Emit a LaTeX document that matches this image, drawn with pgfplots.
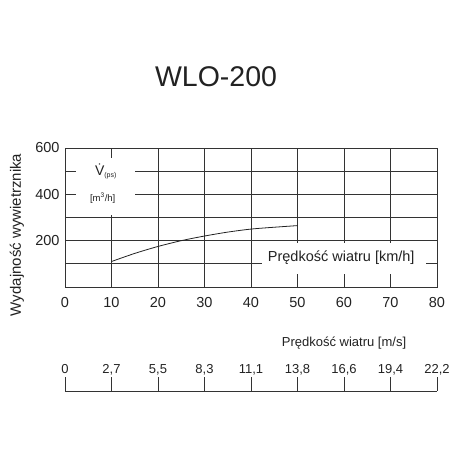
\documentclass[border=0pt]{standalone}
\usepackage{fontspec}
\setmainfont{Liberation Sans}
\usepackage{pgfplots}
\pgfplotsset{compat=1.18}

\definecolor{ink}{HTML}{222222}
\definecolor{gridc}{HTML}{333333}

\begin{document}
\begin{tikzpicture}
\useasboundingbox (0,0) rectangle (458pt,458pt);

% title and y label
\node[text=ink, font=\fontsize{28.5}{30}\selectfont] at (216pt,381pt) {WLO-200};
\node[text=ink, rotate=90, font=\fontsize{15}{17}\selectfont] at (17pt,223pt) {Wydajność wywietrznika};

% main chart (km/h)
\begin{axis}[
    at={(65pt,171pt)}, anchor=south west,
    scale only axis, width=372pt, height=139pt,
    xmin=0, xmax=80, ymin=0, ymax=600,
    xtick={0,10,...,80},
    ytick={200,400,600},
    minor ytick={100,300,500},
    grid=both,
    major grid style={draw=gridc, line width=0.8pt},
    minor grid style={draw=gridc, line width=0.8pt},
    axis line style={draw=gridc, line width=0.8pt},
    major tick length=0pt, minor tick length=0pt,
    /pgf/number format/assume math mode=true,
    tick label style={text=ink, font=\fontsize{14.5}{16}\selectfont},
    xticklabel style={anchor=center, yshift=-15.7pt},
    yticklabel style={anchor=east, xshift=-2pt},
    clip=false,
  ]
  % gaps in the grid behind the labels
  \fill[white] (axis cs:2.4,311) rectangle (axis cs:15,555);
  \fill[white] (axis cs:42.3,56) rectangle (axis cs:77.6,190);

  \addplot[ink, line width=0.8pt, smooth] coordinates {
    (10,110) (15,145) (20,175) (25,200) (30,220) (35,237) (40,250) (45,258) (50,265)
  };

  \node[text=ink, font=\fontsize{14}{15}\selectfont, anchor=base west]
    at (axis cs:5.7,480) {\.{V}\raisebox{-2pt}{\fontsize{7}{8}\selectfont(ps)}};
  \node[text=ink, font=\fontsize{9.5}{10}\selectfont]
    at (axis cs:8.1,385) {[m\textsuperscript{3}/h]};
  \node[text=ink, font=\fontsize{14.5}{16}\selectfont]
    at (axis cs:59.4,127) {Prędkość wiatru [km/h]};
\end{axis}

% second scale (m/s): ticks drawn as grid lines of a flat axis
\begin{axis}[
    at={(65pt,67pt)}, anchor=south west,
    scale only axis, width=372pt, height=14pt,
    xmin=0, xmax=80, ymin=0, ymax=1,
    axis x line*=bottom,
    hide y axis,
    x axis line style={-, draw=gridc, line width=0.8pt},
    xtick={0,10,...,80},
    xticklabels={0,{2,7},{5,5},{8,3},{11,1},{13,8},{16,6},{19,4},{22,2}},
    xmajorgrids,
    major grid style={draw=gridc, line width=0.8pt},
    major tick length=0pt,
    tick label style={text=ink, font=\fontsize{13}{14}\selectfont},
    xticklabel style={anchor=base, yshift=17.3pt},
  ]
\end{axis}
\node[text=ink, font=\fontsize{13}{14}\selectfont] at (344pt,115pt) {Prędkość wiatru [m/s]};

\end{tikzpicture}
\end{document}
